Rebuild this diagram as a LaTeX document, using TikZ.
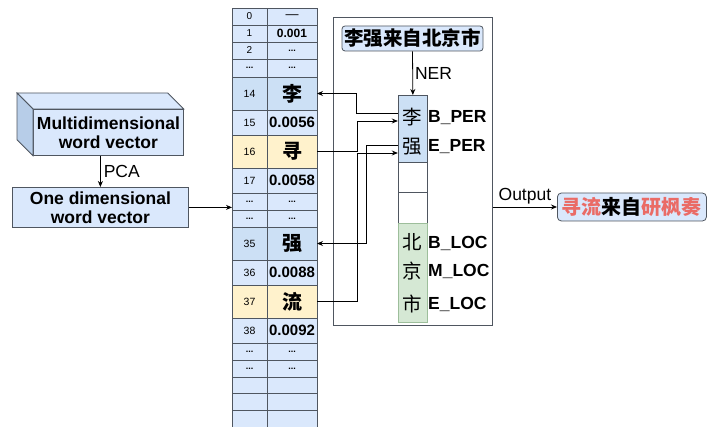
\documentclass[tikz,border=0pt]{standalone}
\usepackage{fontspec}
\setmainfont{Liberation Sans}
\newfontfamily\cjk{Noto Sans CJK SC}
\usetikzlibrary{arrows.meta,calc}
\definecolor{cblue}{HTML}{DAE8FC}
\definecolor{cblue2}{HTML}{CCE0F5}
\definecolor{cyel}{HTML}{FFF2CC}
\definecolor{cgreen}{HTML}{D5E8D4}
\definecolor{cgreenl}{HTML}{9DBE9B}
\definecolor{cred}{HTML}{EA6B66}
\definecolor{cline}{HTML}{4F5660}
\definecolor{cside}{HTML}{B7CDE8}
\newcommand\fsz[1]{\fontsize{#1}{#1}\selectfont}
\newcommand\chr{\cjk\bfseries\fsz{20}}
\newcommand\val{\bfseries\fsz{15}}
\newcommand\dd{\bfseries\fsz{9}...}
\newcommand\tabrow[6]{%
  \node[cell,fill=#4,minimum width=35,minimum height=#3] (i#1) at (232,#2) {#5};
  \node[cell,fill=#4,minimum width=50,minimum height=#3] (v#1) at (267,#2) {#6};}
\begin{document}
\begin{tikzpicture}[x=1pt,y=-1pt,
  arr/.style={draw=black,line width=0.8pt,-{Stealth[length=6pt,width=5pt]}},
  cell/.style={draw=cline,line width=0.7pt,inner sep=0pt,outer sep=0pt,anchor=north west},
  box/.style={draw=cline,line width=0.8pt,fill=cblue,inner sep=0pt,align=center,anchor=north west,font=\bfseries\fsz{17.5}},
  colbox/.style={draw=cline,line width=0.7pt,inner sep=0pt,anchor=north west,minimum width=29},
  nchar/.style={inner sep=0pt,minimum width=29,font=\cjk\fsz{19.5}},
  tag/.style={anchor=west,inner sep=0pt,font=\bfseries\fsz{17.5}},
  lbl/.style={font=\fsz{17.5}}]
\useasboundingbox (0,0) rectangle (708,427);

% ---- table ----
\tabrow{0}{8}{17}{cblue}{\fsz{10}0}{\fsz{13}—}
\tabrow{1}{25}{17}{cblue}{\fsz{10}1}{\fsz{12}\bfseries 0.001}
\tabrow{2}{42}{17}{cblue}{\fsz{10}2}{\dd}
\tabrow{3}{59}{18}{cblue}{\dd}{\dd}
\tabrow{14}{77}{33}{cblue2}{\fsz{10.5}14}{\chr 李}
\tabrow{15}{110}{25}{cblue}{\fsz{10.5}15}{\val 0.0056}
\tabrow{16}{135}{33}{cyel}{\fsz{10.5}16}{\chr 寻}
\tabrow{17}{168}{25}{cblue}{\fsz{10.5}17}{\val 0.0058}
\tabrow{18}{193}{17}{cblue}{\dd}{\dd}
\tabrow{19}{210}{17}{cblue}{\dd}{\dd}
\tabrow{35}{227}{33}{cblue2}{\fsz{10.5}35}{\chr 强}
\tabrow{36}{260}{25}{cblue}{\fsz{10.5}36}{\val 0.0088}
\tabrow{37}{285}{33}{cyel}{\fsz{10.5}37}{\chr 流}
\tabrow{38}{318}{25}{cblue}{\fsz{10.5}38}{\val 0.0092}
\tabrow{39}{343}{17}{cblue}{\dd}{\dd}
\tabrow{40}{360}{17}{cblue}{\dd}{\dd}
\tabrow{41}{377}{16.5}{cblue}{}{}
\tabrow{42}{393.5}{16.5}{cblue}{}{}
\tabrow{43}{410}{17.5}{cblue}{}{}

% ---- left boxes ----
\node[box,minimum width=150,minimum height=46] (multi) at (33,109) {Multidimensional\\[1.5pt]word vector};
\draw[draw=cline,line width=0.8pt,fill=cblue] (multi.north west) -- ++(-16,-16) -- ($(multi.north east)+(-16,-16)$) -- (multi.north east) -- cycle;
\draw[draw=cline,line width=0.8pt,fill=cside] (multi.north west) -- ++(-16,-16) -- ($(multi.south west)+(-16,-16)$) -- (multi.south west) -- cycle;
\node[box,minimum width=176,minimum height=40] (onedim) at (12,187) {One dimensional\\[1.5pt]word vector};
\draw[arr] (onedim.north |- multi.south) -- (onedim.north) node[midway,right,lbl,inner sep=3pt] {PCA};
\draw[arr] (onedim.east) -- (onedim.east -| i18.west);

% ---- NER block ----
\node[draw=cline,line width=0.8pt,minimum width=159,minimum height=308,anchor=north west,inner sep=0pt] (outer) at (333,17) {};
\node[draw=cline,line width=0.8pt,fill=cblue,rounded corners=3pt,minimum width=141,minimum height=25,inner sep=0pt] (title) at (412.5,38.5) {\cjk\bfseries\fsz{19.5}李强来自北京市};
\node[colbox,fill=cblue2,minimum height=67] (nblue) at (398,95) {};
\node[colbox,fill=white,minimum height=30] (nw1) at (398,162) {};
\node[colbox,fill=white,minimum height=31] (nw2) at (398,192) {};
\node[colbox,fill=cgreen,draw=cgreenl,minimum height=99] (ngreen) at (398,223) {};
\draw[arr] (title.south) -- (nblue.north) node[pos=0.5,right,lbl,inner sep=2pt] {NER};

\node[nchar] (nli) at (412.5,117) {李};
\node[nchar] (nqiang) at (412.5,147) {强};
\node[nchar] (nbei) at (412.5,242) {北};
\node[nchar] (njing) at (412.5,271) {京};
\node[nchar] (nshi) at (412.5,304) {市};
\node[tag] (tbper) at (428,118) {B\_PER};
\node[tag] (teper) at (428,147) {E\_PER};
\node[tag] (tbloc) at (428,243) {B\_LOC};
\node[tag] (tmloc) at (428,271) {M\_LOC};
\node[tag] (teloc) at (428,304) {E\_LOC};

% ---- connectors table <-> NER ----
\draw[arr] ([yshift=4pt]nli.west) -- ++(-41,0) |- (v14.east);
\draw[arr] (v16.east) -- ++(40,0) |- ([yshift=-4pt]nli.west);
\draw[arr] ([yshift=2pt]nqiang.west) -- ++(-31,0) |- (v35.east);
\draw[arr] (v37.east) -- ++(40,0) |- ([yshift=-6pt]nqiang.west);

% ---- output ----
\node[draw=cline,line width=0.8pt,fill=cblue,rounded corners=4pt,minimum width=149,minimum height=28,inner sep=0pt,anchor=west] (outb) at (557,207)
  {\cjk\bfseries\fsz{20}\textcolor{cred}{寻流}来自\textcolor{cred}{研枫奏}};
\draw[arr] (outer.east |- outb.west) -- (outb.west) node[midway,above,lbl,inner sep=2pt] {Output};
\end{tikzpicture}
\end{document}
